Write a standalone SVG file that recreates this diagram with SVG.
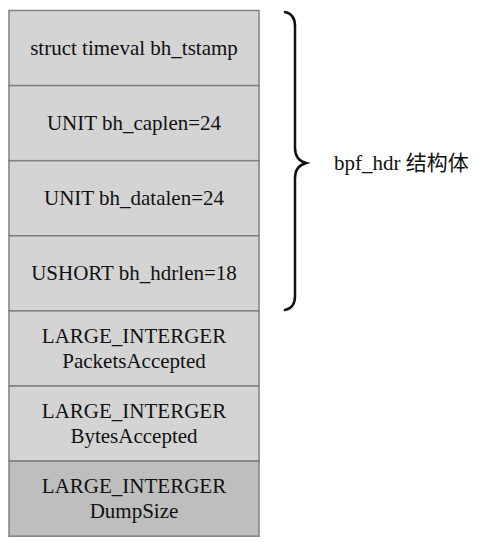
<svg xmlns="http://www.w3.org/2000/svg" width="501" height="543" viewBox="0 0 501 543">
<defs>
<style>
.cell{fill:#d4d4d4;stroke:#808080;stroke-width:1.5}
.dark{fill:#bebebe}
.t{font-size:21px;fill:#111;text-anchor:middle}
.brace{fill:none;stroke:#111;stroke-width:2.5;stroke-linecap:round}
</style>
</defs>
<rect width="501" height="543" fill="#fff"/>
<g font-family="Liberation Serif, serif">
<g id="row1"><rect class="cell" x="9" y="10.5" width="250" height="75.1"/><text class="t" x="134" y="55">struct timeval bh_tstamp</text></g>
<g id="row2"><rect class="cell" x="9" y="85.6" width="250" height="75.1"/><text class="t" x="134" y="130">UNIT bh_caplen=24</text></g>
<g id="row3"><rect class="cell" x="9" y="160.7" width="250" height="75.1"/><text class="t" x="134" y="205">UNIT bh_datalen=24</text></g>
<g id="row4"><rect class="cell" x="9" y="235.8" width="250" height="75.1"/><text class="t" x="134" y="280">USHORT bh_hdrlen=18</text></g>
<g id="row5"><rect class="cell" x="9" y="310.9" width="250" height="75.1"/><text class="t" x="134" y="343">LARGE_INTERGER</text><text class="t" x="134" y="368">PacketsAccepted</text></g>
<g id="row6"><rect class="cell" x="9" y="386" width="250" height="75.1"/><text class="t" x="134" y="418">LARGE_INTERGER</text><text class="t" x="134" y="443">BytesAccepted</text></g>
<g id="row7"><rect class="cell dark" x="9" y="461.1" width="250" height="75.1"/><text class="t" x="134" y="493">LARGE_INTERGER</text><text class="t" x="134" y="518">DumpSize</text></g>
<g id="connectors">
<path class="brace" d="M285,12 Q295,14 295,26 L295,148 Q295,160 306,163 Q295,166 295,178 L295,296 Q295,308 285,310"/>
</g>
<g id="label"><text class="t" x="334" y="170" text-anchor="start" style="text-anchor:start">bpf_hdr <tspan font-family="Noto Sans CJK SC, sans-serif">结构体</tspan></text></g>
</g>
</svg>
